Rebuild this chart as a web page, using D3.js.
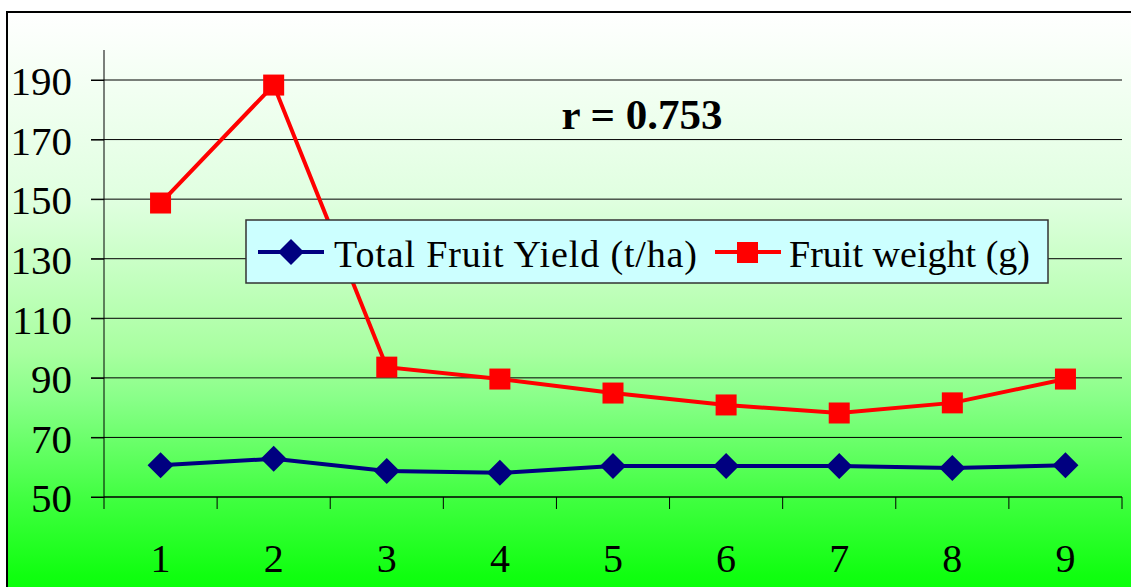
<!DOCTYPE html>
<html><head><meta charset="utf-8">
<script src="https://cdn.jsdelivr.net/npm/d3@7"></script>
<style>html,body{margin:0;padding:0;background:#fff;overflow:hidden}</style>
</head><body>
<script>
const categories = ["1","2","3","4","5","6","7","8","9"];
const yieldValues = [60.7, 62.8, 58.7, 58.1, 60.4, 60.4, 60.4, 59.7, 60.7];
const weightValues = [148.7, 188.3, 93.6, 89.6, 84.9, 80.9, 78.2, 81.6, 89.6];
const yTicks = [50, 70, 90, 110, 130, 150, 170, 190];
const seriesNames = ["Total Fruit Yield (t/ha)", "Fruit weight (g)"];
const annotation = "r = 0.753";

const W = 1131, H = 587;
const FONT = "'Liberation Serif', 'Times New Roman', serif";
const svg = d3.select("body").append("svg").attr("width", W).attr("height", H);
const defs = svg.append("defs");
const grad = defs.append("linearGradient").attr("id","bg").attr("x1",0).attr("y1",0).attr("x2",0).attr("y2",1);
[[0,"#ffffff"],[0.32,"#e0ffe0"],[0.58,"#a8ffa0"],[0.66,"#88ff88"],[0.83,"#40ff40"],[0.96,"#10ff10"],[1,"#08ff08"]]
  .forEach(s=>grad.append("stop").attr("offset",s[0]).attr("stop-color",s[1]));

svg.append("rect").attr("x",7).attr("y",12).attr("width",W).attr("height",H)
  .attr("fill","url(#bg)").attr("stroke","#000").attr("stroke-width",2);

const x = d3.scaleBand().domain(categories).range([104,1122]);
const y = d3.scaleLinear().domain([50,190]).range([497,80]);

// gridlines
svg.append("g").selectAll("line").data(yTicks).join("line")
  .attr("x1",91).attr("x2",1122).attr("y1",d=>y(d)).attr("y2",d=>y(d))
  .attr("stroke","#000").attr("stroke-width",1);

// y axis
const yAxis = svg.append("g").attr("transform","translate(104,0)")
  .call(d3.axisLeft(y).tickValues(yTicks).tickSize(13).tickPadding(19));
yAxis.select(".domain").attr("d","M0,50V497");
yAxis.selectAll("text").attr("font-family",FONT).attr("font-size",41).attr("fill","#000").attr("dy","0.36em");

// x axis
const xAxis = svg.append("g").attr("transform","translate(0,497)")
  .call(d3.axisBottom(x).tickSize(0));
xAxis.select(".domain").attr("d","M104,0H1122");
xAxis.selectAll("text").attr("font-family",FONT).attr("font-size",40).attr("fill","#000").attr("y",75).attr("dy",0);
svg.append("g").selectAll("line").data(d3.range(categories.length+1)).join("line")
  .attr("x1",i=>104+i*x.step()).attr("x2",i=>104+i*x.step()).attr("y1",497).attr("y2",509)
  .attr("stroke","#000").attr("stroke-width",1);

const cx = d=>x(d)+x.bandwidth()/2;
const line = d3.line().x(d=>cx(d[0])).y(d=>y(d[1]));
const yData = categories.map((c,i)=>[c,yieldValues[i]]);
const wData = categories.map((c,i)=>[c,weightValues[i]]);

svg.append("path").attr("d",line(yData)).attr("fill","none").attr("stroke","#000080").attr("stroke-width",4);
svg.append("path").attr("d",line(wData)).attr("fill","none").attr("stroke","#ff0000").attr("stroke-width",4);

const diamond = (g, px, py, r) => g.append("path").attr("d",`M${px},${py-r}L${px+r},${py}L${px},${py+r}L${px-r},${py}Z`).attr("fill","#000080");
const gm = svg.append("g");
yData.forEach(d=>diamond(gm, cx(d[0]), y(d[1]), 13));
gm.selectAll("rect").data(wData).join("rect")
  .attr("x",d=>cx(d[0])-10.5).attr("y",d=>y(d[1])-10.5).attr("width",21).attr("height",21).attr("fill","#ff0000");

// annotation
svg.append("text").attr("x",642).attr("y",129).attr("text-anchor","middle")
  .attr("font-family",FONT).attr("font-weight","bold").attr("font-size",43).text(annotation);

// legend
const lg = svg.append("g");
lg.append("rect").attr("x",246).attr("y",220).attr("width",802).attr("height",63)
  .attr("fill","#ccffff").attr("stroke","#333").attr("stroke-width",1.5);
lg.append("line").attr("x1",258).attr("x2",324).attr("y1",252).attr("y2",252).attr("stroke","#000080").attr("stroke-width",4);
diamond(lg, 291, 252, 13);
lg.append("text").attr("x",334).attr("y",267).attr("font-family",FONT).attr("font-size",38)
  .attr("textLength",363).attr("lengthAdjust","spacing").text(seriesNames[0]);
lg.append("line").attr("x1",715).attr("x2",781).attr("y1",252).attr("y2",252).attr("stroke","#ff0000").attr("stroke-width",4);
lg.append("rect").attr("x",737).attr("y",242).attr("width",21).attr("height",21).attr("fill","#ff0000");
lg.append("text").attr("x",789).attr("y",267).attr("font-family",FONT).attr("font-size",38)
  .attr("textLength",241).attr("lengthAdjust","spacing").text(seriesNames[1]);
</script>
</body></html>
